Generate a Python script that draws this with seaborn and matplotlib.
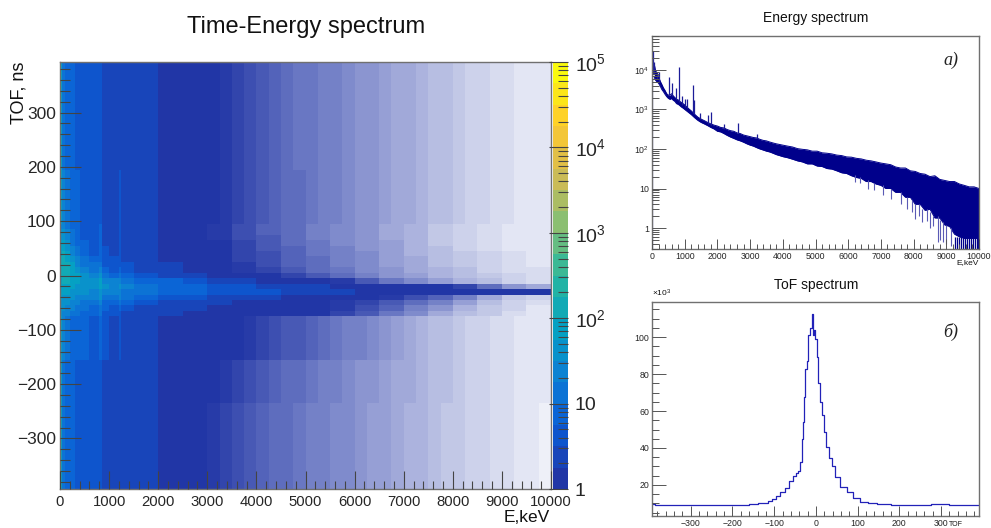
import matplotlib
matplotlib.use("Agg")
import matplotlib.pyplot as plt
from matplotlib.colors import BoundaryNorm, ListedColormap, LinearSegmentedColormap
import numpy as np
import pandas as pd
import seaborn as sns

# mean counts per bin in the Time-Energy map, values below 1 stand for partly empty bins
# energy column widths in keV (fine near the low energy lines)
low_widths = [50, 50, 100, 100, 100, 200, 200, 50, 150, 200, 50, 250, 500]
bg_widths = low_widths + [250] * 32
center_widths = low_widths + [500] * 16

# 100 ns rows, TOF 395 down to 95
upper_counts = [
    [65, 15, 9, 7, 5.5, 5, 4.5, 5, 3, 2.7, 3, 2.4, 1.9, 1.7, 1.45, 1.2, 1.05, 1, .95, .9, .85, .8, .75, .72, .68, .65, .62, .6, .56, .53, .5, .46, .42, .4, .36, .33, .3, .27, .24, .21, .18, .16, .14, .12, .1],
    [62, 15, 9, 7, 5.5, 5, 4.5, 5, 3, 2.7, 3, 2.4, 1.9, 1.7, 1.45, 1.2, 1.05, 1, .95, .9, .85, .8, .76, .72, .68, .65, .63, .6, .57, .53, .5, .46, .43, .4, .37, .33, .3, .27, .24, .21, .19, .16, .14, .12, .11],
    [60, 20, 11, 7.5, 6, 5, 4.5, 5.5, 3, 2.7, 3.2, 2.4, 1.9, 1.7, 1.45, 1.2, 1.05, 1, .95, .9, .85, .8, .76, .72, .7, .66, .63, .6, .57, .54, .5, .47, .43, .4, .37, .34, .3, .27, .24, .22, .19, .16, .14, .13, .12],
]

# 10 ns rows around the main ridge, TOF 95 down to -75, 500 keV columns from 2000 keV
center_counts = [
    [30, 30, 14, 9, 6.5, 5, 4.5, 6, 3, 2.7, 3.5, 2.4, 1.9, 1.6, 1.1, .95, .85, .75, .7, .62, .55, .5, .42, .36, .28, .22, .17, .13, .12],
    [40, 40, 20, 11, 7, 5.2, 4.5, 6, 3, 2.7, 3.5, 2.4, 1.9, 1.6, 1.1, .95, .85, .78, .7, .62, .55, .5, .42, .36, .28, .22, .17, .13, .12],
    [50, 55, 28, 13, 8, 5.5, 4.5, 6, 3, 2.7, 3.5, 2.4, 1.9, 1.6, 1.1, .95, .85, .8, .72, .62, .55, .5, .42, .36, .28, .22, .18, .13, .12],
    [60, 70, 38, 17, 9, 6, 4.7, 6, 3.1, 2.7, 3.5, 2.4, 1.9, 1.6, 1.15, 1, .9, .8, .72, .65, .58, .5, .45, .36, .28, .24, .18, .14, .12],
    [70, 90, 50, 22, 11, 6.5, 5, 6.5, 3.2, 2.8, 3.5, 2.5, 1.9, 1.6, 1.2, 1, .9, .82, .75, .66, .6, .52, .45, .38, .3, .24, .18, .14, .12],
    [85, 110, 70, 30, 14, 8, 5.5, 7, 3.5, 3, 3.7, 2.6, 2, 1.65, 1.2, 1, .92, .85, .78, .68, .6, .55, .45, .38, .3, .25, .2, .15, .13],
    [100, 130, 95, 42, 20, 10, 7, 9, 4.2, 3.3, 4, 2.8, 2.1, 1.7, 1.2, 1, .9, .85, .75, .7, .6, .55, .48, .4, .32, .26, .2, .16, .13],
    [110, 150, 120, 60, 30, 15, 10, 12, 5.5, 4, 5, 3.2, 2.3, 1.8, 1.3, 1.05, .95, .88, .78, .7, .62, .55, .48, .42, .34, .28, .22, .17, .14],
    [110, 150, 130, 85, 45, 24, 15, 20, 8, 5.5, 7, 4.2, 2.7, 2, 1.4, 1.1, .98, .9, .8, .72, .65, .58, .5, .44, .36, .3, .24, .18, .15],
    [100, 130, 120, 90, 60, 38, 25, 35, 14, 9.5, 12, 6.5, 3.5, 3, 1.8, 1.35, 1.15, 1, .9, .8, .72, .62, .52, .45, .38, .32, .26, .2, .16],
    [90, 110, 100, 80, 62, 50, 38, 60, 28, 20, 30, 14, 7, 6, 3.6, 2.5, 1.9, 1.5, 1.25, 1.05, .95, .82, .68, .55, .46, .38, .3, .24, .18],
    [80, 90, 80, 65, 55, 45, 38, 60, 32, 30, 42, 22, 14, 9, 7, 5, 3.8, 3, 2.4, 2, 1.7, 1.5, 1.3, 1.15, 1.05, .9, .7, .5, .4],
    [70, 70, 60, 50, 42, 36, 30, 45, 25, 22, 30, 17, 12, 8, 6.5, 5, 4, 3.2, 2.6, 2.2, 1.9, 1.7, 1.6, 1.5, 1.4, 1.3, 1.2, 1.2, 1.3],
    [60, 55, 45, 36, 30, 26, 20, 32, 16, 13, 18, 10, 7.5, 5, 3.5, 2.7, 2.1, 1.8, 1.5, 1.3, 1.15, 1.05, .95, .85, .75, .62, .42, .28, .2],
    [55, 42, 32, 26, 20, 17, 13, 22, 9.5, 8, 10, 6, 4.5, 3, 2.2, 1.8, 1.5, 1.3, 1.15, 1.05, .98, .9, .8, .7, .6, .45, .32, .22, .16],
    [50, 32, 24, 18, 14, 11, 9, 15, 6, 5, 6.5, 4, 3, 2.2, 1.8, 1.5, 1.3, 1.2, 1.1, 1, .95, .85, .75, .62, .5, .38, .28, .2, .14],
    [50, 25, 18, 13, 10, 8, 6.5, 11, 4.5, 3.8, 4.5, 3, 2.4, 1.9, 1.5, 1.3, 1.2, 1.1, 1.05, 1, .9, .8, .68, .55, .43, .33, .25, .17, .13],
]

# 80 ns rows, TOF -75 down to -395
lower_counts = [
    [58, 20, 12, 9, 7, 6, 5, 7, 3.5, 3, 3.6, 2.6, 2, 1.7, 1.5, 1.3, 1.2, 1.1, 1.05, 1, .97, .92, .88, .84, .8, .76, .72, .68, .64, .6, .55, .5, .45, .42, .38, .34, .3, .27, .24, .21, .18, .16, .14, .12, .11],
    [60, 16, 9.5, 7, 5.5, 5, 4.6, 5, 3, 2.7, 3, 2.4, 1.9, 1.65, 1.4, 1.15, 1.02, 1, .95, .9, .85, .8, .76, .72, .7, .66, .63, .6, .57, .54, .5, .46, .42, .4, .37, .33, .3, .27, .24, .21, .18, .16, .13, .11, .1],
    [62, 15, 9, 7, 5.5, 5.2, 4.7, 5, 3, 2.7, 3, 2.4, 1.9, 1.65, 1.4, 1.15, 1.02, .98, .93, .88, .83, .78, .74, .7, .68, .64, .62, .58, .55, .52, .48, .45, .42, .39, .36, .32, .29, .26, .23, .2, .17, .15, .12, .1, .09],
    [70, 16, 9, 7, 5.5, 5.4, 4.9, 5, 3, 2.7, 3, 2.4, 1.9, 1.65, 1.4, 1.15, 1.02, .98, .92, .86, .81, .77, .74, .7, .67, .64, .6, .58, .55, .52, .48, .45, .42, .39, .36, .32, .29, .26, .23, .2, .17, .15, .12, .1, .09],
]

# Energy spectrum: band of the histogram, envelope
spec_e = [70, 100, 150, 200, 250, 300, 350, 400, 450, 500, 550, 600, 650, 700, 750, 800, 850, 900, 950, 1000,
          1100, 1200, 1300, 1400, 1500, 1600, 1700, 1800, 1900, 2000, 2100, 2200, 2300, 2400, 2500, 2600, 2700,
          2800, 2900, 3000, 3100, 3200, 3300, 3400, 3500, 3600, 3700, 3800, 3900, 4000, 4150, 4300, 4450, 4600,
          4750, 4900, 5050, 5200, 5350, 5500, 5650, 5800, 5950, 6100, 6250, 6400, 6550, 6700, 6850, 7000, 7150,
          7300, 7450, 7600, 7750, 7900, 8050, 8200, 8350, 8500, 8650, 8800, 8950, 9100, 9250, 9400, 9550, 9700,
          9850, 10000]
spec_upper = [14000, 10000, 8200, 6800, 5200, 4300, 3500, 3000, 2500, 2300, 2300, 2500, 2200, 2000, 1800, 1750, 1600,
              1500, 1400, 1300, 1080, 920, 760, 640, 570, 520, 470, 430, 400, 380, 350, 340, 310, 290, 280, 255,
              245, 225, 215, 205, 195, 190, 175, 165, 160, 150, 142, 135, 130, 125, 118, 112, 102, 98,
              95, 88, 88, 80, 78, 75, 70, 68, 63, 62, 58, 56, 52, 50, 47, 44, 42, 40, 35, 33,
              33, 28, 27, 24, 23, 20, 21, 17, 16, 15, 15, 13, 12, 11, 11, 10]
spec_lower = [6500, 5600, 5000, 4600, 3900, 3200, 2800, 2400, 2100, 1900, 1800, 1900, 1700, 1600, 1400, 1350, 1250,
              1150, 1080, 1000, 860, 740, 620, 530, 470, 430, 390, 350, 320, 280, 270, 245, 220, 200, 185, 170,
              160, 148, 135, 125, 118, 108, 100, 94, 88, 84, 78, 72, 68, 64, 60, 55, 50, 47,
              42, 42, 37, 36, 32, 31, 28, 25, 24, 21, 19, 18, 15, 15, 13, 12, 10, 10, 8, 8,
              6, 6, 4, 4, 2.8, 3, 1.8, 1.8, 1.2, 1.1, .7, .6, .55, .55, .55, .55]
peak_e = [40, 70, 150, 215, 510, 610, 730, 840, 910, 1010, 1070, 1240, 1280, 1460, 1700, 1800, 2190, 2615, 3200]
peak_base = [8000, 8000, 6000, 5000, 2300, 2200, 1800, 1500, 1300, 1150, 1100, 800, 750, 560, 430, 400, 320, 250, 190]
peak_top = [30000, 16000, 8800, 9000, 6600, 4600, 3500, 11800, 2200, 1800, 1800, 4150, 1700, 800, 740, 880, 420, 450, 240]
dip_e = [6200, 6350, 6600, 6800, 7050, 7300, 7600, 7800, 7950, 8050, 8150, 8250, 8400, 8500, 8600, 8750, 8800, 8900, 9000, 9150]
dip_top = [22, 20, 16, 14, 12, 10, 8, 6, 5, 4, 4, 3, 3, 2.5, 2, 2, 1.6, 1.4, 1.2, 1]
dip_low = [15, 14, 10, 9, 7, 5.5, 4, 3, 2.5, 1.7, 2, 1.4, 1.5, 1, 1.1, .45, .5, .45, .4, .35]
floor_e = [9280, 9330, 9400, 9450, 9520, 9580, 9640, 9700, 9760, 9820, 9880, 9940, 9980]

# ToF spectrum in thousands of counts
tof_x = [-393, -380, -350, -300, -250, -200, -170, -150, -130, -120, -110, -100, -90, -80, -70, -60, -50, -44, -40,
         -36, -33, -30, -28, -24, -20, -16, -12, -9, -7, -4, 0, 3, 7, 12, 16, 21, 28, 34, 42, 50, 66, 82, 98,
         114, 134, 160, 200, 250, 300, 340, 393]
tof_y = [9.6, 9.1, 9.2, 9.1, 9.2, 9.2, 9.2, 9.5, 10, 10.5, 11.5, 12.5, 14, 16, 18.5, 22, 25, 26.5, 27.5,
         32.6, 45, 54, 67.6, 83, 87, 101, 105, 112.6, 101, 103.6, 99, 89, 75, 65, 58, 48.4, 40.7, 34.4, 30, 24.5, 19, 16, 13,
         11, 10, 9.7, 9.4, 9.2, 9.6, 9.1, 8.9]

map_title = "Time-Energy spectrum"
e_ticks = [0, 1000, 2000, 3000, 4000, 5000, 6000, 7000, 8000, 9000, 10000]
tof_ticks = [-300, -200, -100, 0, 100, 200, 300]
tof_panel_ticks = [20, 40, 60, 80, 100]
cbar_decades = [0, 1, 2, 3, 4, 5]
cbar_labels = ["1", "10", "$10^{2}$", "$10^{3}$", "$10^{4}$", "$10^{5}$"]

sns.set_theme(style="white")
plt.rcParams["font.family"] = ["Liberation Sans", "DejaVu Sans"]
plt.rcParams["mathtext.default"] = "regular"
plt.rcParams["axes.axisbelow"] = False

W, H = 991, 528
fig = plt.figure(figsize=(W / 100, H / 100), dpi=100)


def px_axes(x0, y0, x1, y1):
    # axes from pixel corners, y measured from the top of the picture
    return fig.add_axes([x0 / W, 1 - y1 / H, (x1 - x0) / W, (y1 - y0) / H])


def frame(ax):
    for s in ax.spines.values():
        s.set_visible(True)
        s.set_color("#707070")
        s.set_linewidth(1.0)


def small_ticks(ax):
    ax.tick_params(axis="x", which="major", direction="in", length=7, width=0.7, color="#555555", pad=2, bottom=True)
    ax.tick_params(axis="x", which="minor", direction="in", length=3.5, width=0.7, color="#555555", bottom=True)
    ax.tick_params(axis="y", which="major", direction="in", length=10, width=0.7, color="#555555", pad=2, left=True)
    ax.tick_params(axis="y", which="minor", direction="in", length=5, width=0.7, color="#555555", left=True)


# ROOT's bird palette in 20 levels, with a fade to white for partly empty bins
bird = LinearSegmentedColormap.from_list("bird", [
    (0.13, 0.21, 0.65), (0.04, 0.36, 0.84), (0.05, 0.50, 0.83),
    (0.02, 0.64, 0.76), (0.16, 0.72, 0.62), (0.53, 0.75, 0.45),
    (0.82, 0.73, 0.33), (1.00, 0.79, 0.18), (0.98, 0.98, 0.05)])
bird_levels = [bird(i / 19) for i in range(20)]
dark = np.array(bird_levels[0][:3])
fades = [tuple(1 - (1 - dark) * (i + 0.5) / 20) for i in range(20)]
bounds = [i / 20 for i in range(21)] + [10 ** (i / 4) for i in range(1, 21)]
cmap = ListedColormap(fades + bird_levels)
norm = BoundaryNorm(bounds, cmap.N)

# main map, blocks spread on a common 50 keV x 10 ns grid
bg_repeat = [w // 50 for w in bg_widths]
grid = np.vstack([
    np.repeat(np.repeat(upper_counts, 10, axis=0), bg_repeat, axis=1),
    np.repeat(center_counts, [w // 50 for w in center_widths], axis=1),
    np.repeat(np.repeat(lower_counts, 8, axis=0), bg_repeat, axis=1),
])
tof_idx = lambda t: (395 - np.asarray(t, dtype=float)) / 10
e_idx = lambda e: np.asarray(e, dtype=float) / 50

ax = px_axes(60, 62, 551, 489)
sns.heatmap(pd.DataFrame(grid), ax=ax, cmap=cmap, norm=norm, cbar=False, xticklabels=False, yticklabels=False)
ax.set_axisbelow(False)
ax.set_xlim(0, e_idx(10000))
ax.set_ylim(tof_idx(-393), tof_idx(393))
ax.set_xticks(e_idx(e_ticks), [str(e) for e in e_ticks], fontsize=10.7)
ax.set_xticks(e_idx(np.arange(0, 10001, 200)), minor=True)
ax.set_yticks(tof_idx(tof_ticks), [str(t).replace("-", "\u2212") for t in tof_ticks], fontsize=12.5, rotation=0)
ax.set_yticks(tof_idx(np.arange(-380, 381, 20)), minor=True)
ax.tick_params(axis="x", which="major", direction="in", length=13, width=0.8, color="#444444", pad=4, bottom=True)
ax.tick_params(axis="x", which="minor", direction="in", length=6, width=0.8, color="#444444", bottom=True)
ax.tick_params(axis="y", which="major", direction="in", length=15, width=0.8, color="#444444", pad=3, left=True)
ax.tick_params(axis="y", which="minor", direction="in", length=7, width=0.8, color="#444444", left=True)
frame(ax)
fig.text(306 / W, 1 - 27 / H, map_title, ha="center", va="center", fontsize=17, color="#111111")
fig.text(19 / W, 1 - 62 / H, "TOF, ns", ha="center", va="top", rotation=90, fontsize=13, color="#111111")
fig.text(550 / W, 1 - 518 / H, "E,keV", ha="right", va="center", fontsize=12.5, color="#111111")

# colour scale, one cell per palette level
cax = px_axes(553, 62, 568, 489)
sns.heatmap(pd.DataFrame(np.array([[10 ** ((i + 0.5) / 4)] for i in range(19, -1, -1)])), ax=cax, cmap=cmap, norm=norm,
            cbar=False, xticklabels=False, yticklabels=False)
cax.set_axisbelow(False)
cax.set_xticks([])
cax.yaxis.tick_right()
cax.set_yticks([20 - d * 4 for d in cbar_decades], cbar_labels, fontsize=14, rotation=0)
cax.set_yticks([20 - 4 * (d + np.log10(m)) for d in range(5) for m in range(2, 10)], minor=True)
cax.tick_params(axis="y", which="major", direction="in", length=14, width=0.8, color="#444444", pad=5, right=True)
cax.tick_params(axis="y", which="minor", direction="in", length=7, width=0.8, color="#444444", right=True)
for s in cax.spines.values():
    s.set_visible(False)

# energy spectrum panel
ax_e = px_axes(652, 36, 979, 249)
ax_e.fill_between(spec_e, spec_lower, spec_upper, color="#00008b", lw=0)
sns.lineplot(x=spec_e, y=spec_upper, ax=ax_e, color="#00008b", lw=0.7, estimator=None, sort=False)
sns.lineplot(x=spec_e, y=spec_lower, ax=ax_e, color="#00008b", lw=0.7, estimator=None, sort=False)
ax_e.vlines(peak_e, peak_base, peak_top, color="#1c1c98", lw=0.9)
ax_e.vlines(dip_e, dip_low, dip_top, color="#5a5ab5", lw=0.8)
ax_e.vlines(floor_e, 0.295, 0.6, color="#00008b", lw=0.9)
ax_e.vlines([6], 0.295, 8000, color="#6a6ac0", lw=0.9)
ax_e.set_yscale("log")
ax_e.set_xlim(0, 10000)
ax_e.set_ylim(0.295, 72000)
ax_e.set_xticks(e_ticks, [str(e) for e in e_ticks], fontsize=6.3)
ax_e.set_xticks(np.arange(0, 10001, 200), minor=True)
ax_e.set_yticks([1, 10, 100, 1000, 10000], ["1", "10", "$10^{2}$", "$10^{3}$", "$10^{4}$"], fontsize=6.3)
ax_e.set_yticks([m * 10.0 ** d for d in range(-1, 5) for m in range(2, 10) if 0.295 < m * 10.0 ** d < 72000],
                minor=True, labels=[])
small_ticks(ax_e)
frame(ax_e)
fig.text(816 / W, 1 - 18 / H, "Energy spectrum", ha="center", va="center", fontsize=10, color="#111111")
fig.text(979 / W, 1 - 263 / H, "E,keV", ha="right", va="center", fontsize=6, color="#111111")
fig.text(951 / W, 1 - 60 / H, "a)", ha="center", va="center", fontsize=13, style="italic",
         family=["Liberation Serif"], color="#222222")

# ToF spectrum panel
ax_t = px_axes(652, 302, 979, 516)
sns.lineplot(x=tof_x, y=tof_y, ax=ax_t, color="#2222b8", lw=0.9, drawstyle="steps-mid", estimator=None, sort=False)
ax_t.set_xlim(-393, 391)
ax_t.set_ylim(3.2, 119)
ax_t.set_xticks(tof_ticks, [str(t).replace("-", "\u2212") for t in tof_ticks], fontsize=6.3)
ax_t.set_xticks(np.arange(-380, 381, 20), minor=True)
ax_t.set_yticks(tof_panel_ticks, [str(t) for t in tof_panel_ticks], fontsize=6.3)
ax_t.set_yticks(np.arange(5, 116, 5), minor=True)
small_ticks(ax_t)
frame(ax_t)
fig.text(816 / W, 1 - 285 / H, "ToF spectrum", ha="center", va="center", fontsize=10, color="#111111")
fig.text(652 / W, 1 - 299 / H, "\u00d7$10^{3}$", ha="left", va="bottom", fontsize=6, color="#111111")
fig.text(951 / W, 1 - 332 / H, "\u0431)", ha="center", va="center", fontsize=13, style="italic",
         family=["Liberation Serif"], color="#222222")
fig.text(956 / W, 1 - 527.5 / H, "TOF", ha="center", va="bottom", fontsize=5, color="#111111")

fig.savefig("out.png", dpi=100)
